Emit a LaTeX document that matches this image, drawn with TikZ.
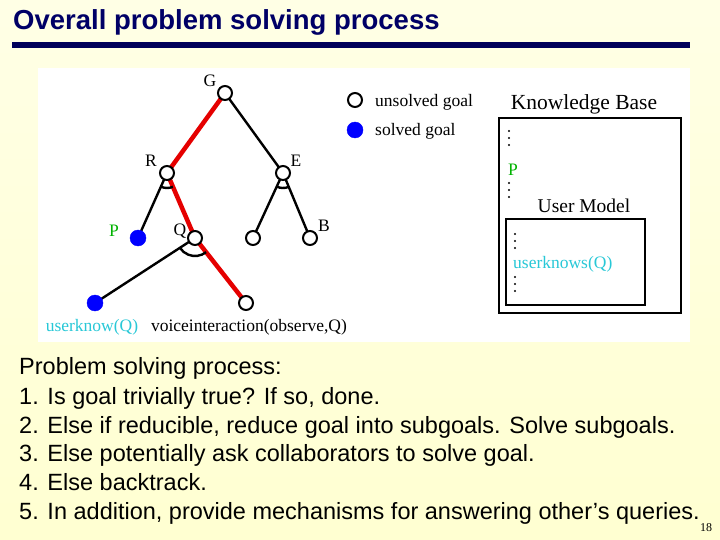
\documentclass[tikz,border=0pt]{standalone}
\usepackage{fontspec}
\setmainfont{Liberation Sans}
\newfontfamily\serifx{Liberation Serif}
\definecolor{cyanx}{RGB}{40,200,215}
\begin{document}
\begin{tikzpicture}[x=1pt,y=-1pt,
  goal/.style={circle,draw=black,line width=2pt,fill=white,minimum size=14pt,inner sep=0pt},
  solved/.style={circle,fill=blue,draw=blue,minimum size=16pt,inner sep=0pt},
  lbl/.style={font=\serifx\fontsize{17.5}{17.5}\selectfont,inner sep=0pt},
  edge/.style={line width=2.4pt,black},
  redge/.style={line width=4.5pt,red!90!black},
  dotx/.style={circle,fill=black,inner sep=0pt,minimum size=2.4pt},
  txt/.style={font=\fontsize{23.5}{23.5}\selectfont,anchor=base west,inner sep=0pt}]
\shade[top color=yellow!10,bottom color=yellow!18] (0,0) rectangle (720,540);
\useasboundingbox (0,0) rectangle (720,540);
\fill[white] (38,68) rectangle (690,342);
\node[anchor=base west,inner sep=0pt,font=\bfseries\fontsize{27.5}{27.5}\selectfont,text=blue!40!black] (title) at (13,30) {Overall problem solving process};
\fill[blue!35!black] (12,42) rectangle (690,48);
% tree
\coordinate (G) at (225,93);
\coordinate (R) at (167,173);
\coordinate (E) at (283,173);
\coordinate (P) at (138,238);
\coordinate (Q) at (195,238);
\coordinate (N) at (253,238);
\coordinate (B) at (310,238);
\coordinate (U) at (95,303);
\coordinate (V) at (246,303);
\draw[edge] (G)--(E) (E)--(N) (E)--(B) (R)--(P) (Q)--(U);
\draw[redge] (G)--(R) (R)--(Q) (Q)--(V);
\draw[edge] ([shift={(67:15)}]R) arc[start angle=67,end angle=114,radius=15];
\draw[edge] ([shift={(67:15)}]E) arc[start angle=67,end angle=115,radius=15];
\draw[edge] ([shift={(52:18)}]Q) arc[start angle=52,end angle=147,radius=18];
\node[goal] (g) at (G) {};
\node[goal] (r) at (R) {};
\node[goal] (e) at (E) {};
\node[solved] (p) at (P) {};
\node[goal] (q) at (Q) {};
\node[goal] (n) at (N) {};
\node[goal] (b) at (B) {};
\node[solved] (u) at (U) {};
\node[goal] (v) at (V) {};
\node[lbl] (lG) at (210,81) {G};
\node[lbl] (lR) at (151,161) {R};
\node[lbl] (lE) at (296,161) {E};
\node[lbl,text=green!70!black] (lP) at (114,231) {P};
\node[lbl] (lQ) at (180,231) {Q};
\node[lbl] (lB) at (324,226) {B};
\node[lbl,text=cyanx] (lU) at (92,327) {userknow(Q)};
\node[lbl] (lV) at (249,327) {voiceinteraction(observe,Q)};
% legend
\node[goal] (l1) at (355,100) {};
\node[solved] (l2) at (355,130) {};
\node[lbl,anchor=west] (t1) at (375,102) {unsolved goal};
\node[lbl,anchor=west] (t2) at (375,131) {solved goal};
% KB
\node[font=\serifx\fontsize{21.5}{21.5}\selectfont,inner sep=0pt] (kb) at (584,104) {Knowledge Base};
\draw[line width=2.4pt] (499,118) rectangle (681,313);
\foreach \y in {131,138,145,183,190,197} \node[dotx] at (509,\y) {};
\foreach \y in {234,241,248,277,284,291} \node[dotx] at (515,\y) {};
\node[lbl,text=green!70!black] (kp) at (513,170) {P};
\node[font=\serifx\fontsize{19.5}{19.5}\selectfont,inner sep=0pt] (um) at (584,206) {User Model};
\draw[line width=1.8pt] (506,219) rectangle (645,305);
\node[lbl,text=cyanx,anchor=west] (uk) at (513,264) {userknows(Q)};
% text
\node[txt] (s0) at (19,374) {Problem solving process:};
\node[txt] (s1) at (19,404) {1. Is goal trivially true? If so, done.};
\node[txt] (s2) at (19,433) {2. Else if reducible, reduce goal into subgoals. Solve subgoals.};
\node[txt] (s3) at (19,461) {3. Else potentially ask collaborators to solve goal.};
\node[txt] (s4) at (19,490) {4. Else backtrack.};
\node[txt] (s5) at (19,519) {5. In addition, provide mechanisms for answering other’s queries.};
\node[font=\serifx\fontsize{12}{12}\selectfont,inner sep=0pt] (pg) at (706,528) {18};
\end{tikzpicture}
\end{document}
